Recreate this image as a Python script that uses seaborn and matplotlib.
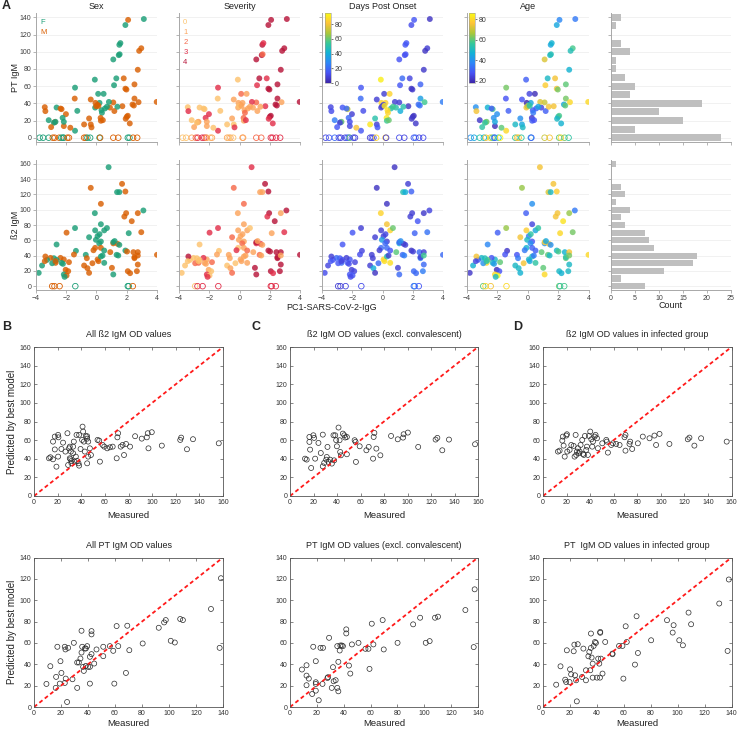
import numpy as np
import pandas as pd
import matplotlib
matplotlib.use("Agg")
import matplotlib.pyplot as plt
import seaborn as sns
from matplotlib.colors import LinearSegmentedColormap, Normalize
from matplotlib.cm import ScalarMappable

sns.set_theme(style="white")
plt.rcParams["font.family"] = ["Liberation Sans", "DejaVu Sans"]

# ---------------- Panel A data: PT IgM row ----------------
pt_pc1 = [3.13, 2.09, 1.91, 1.51, 1.58, 1.47, 1.53, 1.11, 2.96, 2.82, 2.73, 1.31, 1.80, 1.16, 1.91, 1.98, 2.51, -0.11,
          2.51, 2.78, 2.38, 2.47, 2.00, 2.07, 1.93, 2.20, 3.98, 1.71, 1.11, 1.18, 1.38, 0.89, 0.82, 0.56, 0.69, 0.33,
          0.36, 0.11, 0.47, 0.20, -0.09, -0.07, 0.07, -0.02, 0.13, 0.27, 0.29, 0.42, -0.38, -0.49, -0.38, -0.33, -0.82,
          -1.44, -1.42, -1.27, -1.42, -1.73, -2.02, -2.31, -2.16, -2.24, -2.16, -2.76, -2.71, -2.82, -2.64, -3.16,
          -3.00, -3.42, -3.38, -2.38,
          -3.76, -3.53, -3.16, -2.89, -2.76, -2.47, -2.33, -2.22, -2.16, -1.93, -1.82, -0.82, -0.71, -0.60, -0.42,
          0.20, 0.24, 1.11, 1.44, 2.07, 2.18, 2.42, 2.69]
pt_igm = [138, 137, 131, 108, 110, 96, 97, 91, 104, 101, 79, 69, 69, 61, 57, 56, 62, 67.5,
          45.5, 41.3, 38.6, 37.4, 24.3, 25.5, 22, 16.6, 41.6, 36.6, 41, 31, 36, 35, 41.6, 34, 36, 32,
          29, 51, 51, 40.5, 35, 40.5, 38.2, 36.6, 37, 23, 19.7, 20.4, 44.4, 22.4, 15.4, 12, 15.4,
          45.5, 58.2, 31.2, 8.1, 11.6, 27.4, 33.2, 13.5, 23.1, 18.5, 18.1, 18.5, 17.4, 35.1, 20.4,
          12.3, 35.5, 30.9, 33.9,
          0, 0, 0, 0, 0, 0, 0, 0, 0, 0, 0, 0, 0, 0, 0, 0, 0, 0, 0, 0, 0, 0, 0]
pt_sex = list("FMFFFFFFMMMFMFMMMFMMMMMMMMMMMMFMFFFFFFFFFMMMMMMMMMMMMMFFFMMMMFFMFFFFMMMM"
              "FFFMMMFFFMMMMFFFMMMFFMM")
pt_sev = [4, 4, 4, 4, 3, 4, 2, 4, 4, 4, 4, 4, 3, 3, 4, 4, 4, 0, 4, 1, 4, 4, 4, 4, 3, 3, 4, 3, 2, 1, 1, 1, 3, 1, 1, 1,
          2, 2, 1, 1, 1, 1, 1, 0, 1, 2, 1, 3, 1, 1, 0, 3, 0, 0, 3, 0, 3, 0, 3, 0, 1, 3, 1, 1, 1, 0, 0, 0, 1, 0, 3, 0,
          0, 0, 1, 2, 3, 3, 3, 2, 1, 0, 1, 1, 0, 1, 0, 1, 1, 2, 2, 3, 3, 3, 3]
pt_days = [5, 15, 12, 15, 15, 12, 14, 14, 8, 5, 6, 20, 10, 15, 5, 6, 18, 92, 35, 55, 20, 22, 6, 5, 6, 6, 25, 5, 8,
           40, 50, 50, 8, 48, 55, 88, 85, 8, 85, 85, 8, 85, 10, 8, 90, 90, 55, 60, 8, 50, 8, 15, 90, 20, 15, 12, 15,
           80, 8, 70, 10, 20, 12, 15, 60, 8, 15, 25, 15, 10, 12, 20,
           10, 15, 20, 12, 8, 10, 15, 18, 60, 12, 8, 8, 10, 12, 85, 80, 8, 12, 10, 15, 20, 10, 12]
pt_age = [35, 38, 45, 45, 48, 50, 52, 72, 58, 52, 48, 50, 75, 78, 75, 62, 60, 30, 62, 80, 45, 60, 50, 58, 50, 48, 80,
          75, 70, 30, 75, 25, 72, 30, 45, 30, 35, 25, 20, 45, 75, 18, 50, 70, 55, 22, 30, 28, 28, 40, 45, 50, 50, 28,
          62, 30, 80, 60, 40, 58, 20, 40, 45, 80, 60, 55, 48, 22, 55, 40, 75, 30,
          40, 45, 55, 48, 75, 80, 60, 40, 30, 50, 85, 55, 75, 75, 55, 45, 30, 70, 75, 60, 80, 62, 55]

# ---------------- Panel A data: beta2 IgM row ----------------
b2_pc1 = [0.80, -0.38, 1.69, 1.91, 1.36, 1.51, 0.29, 3.10, 1.96, 1.84, 2.33, 2.73, -0.11, -1.98, -1.42, -0.09, 0.29,
          0.51, 0.69, 0.07, -0.04, 0.29, 0.18, -0.49, -0.71, -1.36, -1.49, -2.64, -1.82, -2.16, -2.04, -1.87, -2.16,
          -1.98, -2.11, -2.38, -2.31, -2.22, -2.71, -2.64, -2.82, -3.04, -3.27, -3.38, -3.60, -3.82, -3.42, -2.93,
          -2.71, -0.64, -0.82, -0.60, -0.49, -0.27, -0.09, -0.20, 0.07, 0.13, 0.29, 0.29, 0.40, 0.51, 0.51, 0.91,
          1.11, 1.11, 1.11, 1.02, 1.40, 1.33, 1.44, 1.51, 1.91, 2.02, 2.07, 2.22, 2.13, 2.44, 2.51, 2.51, 2.73, 2.73,
          2.73, 2.67, 2.96, 4.00, 1.20, 0.20,
          -2.93, -2.78, -2.44, -1.40, 2.07, 2.13, 2.40]
b2_igm = [155.6, 128.6, 133.8, 123.8, 123, 123, 107.7, 99, 95.5, 91, 85, 95.5, 95.5, 70, 76, 73, 81,
          73, 76, 65.4, 60.6, 58.4, 56, 64, 41, 46.2, 41.4, 54.5, 31.4, 34.9, 21.4, 19.6, 15.3,
          14, 12.2, 37, 30.5, 29.2, 30.5, 34.4, 36.6, 37, 34.4, 38.8, 27, 17.4, 32.7, 30,
          32.7, 36.6, 27, 23.5, 17.4, 30, 50.1, 47, 34.9, 32.7, 50.1, 38.8, 40, 46.6, 30.5, 44.5,
          56, 57.5, 15.3, 24, 55.3, 41, 40.1, 54, 46.6, 45.3, 19.6, 17, 69.3, 44.5, 36.6, 38, 44.5, 40.1,
          28.3, 19.6, 70.6, 41, 59, 68,
          0, 0, 0, 0, 0, 0, 0]
b2_sex = list("FMMMFFMFMM" "MMFMFFFFFF" "FFFFFFMFMM" "MMFMFMFFMF" "FMFMFFMFMM"
              "MMMMMMMMMF" "FFFMMFFMMF" "FFFMMMFMMM" "MMMMMMFF" "MMMFFFM")
b2_sev = [3, 2, 4, 4, 1, 1, 2, 4, 4, 3, 4, 1, 1, 3, 3, 1, 1, 1, 0, 1, 1, 1, 2, 2, 1, 0, 1, 0, 2, 1, 1, 0, 3, 0, 3,
          3, 1, 1, 2, 0, 0, 0, 0, 4, 0, 0, 0, 2, 0, 1, 0, 1, 2, 0, 0, 3, 1, 1, 1, 1, 1, 2, 1, 1, 3, 4, 4, 4, 3, 2,
          1, 1, 4, 4, 4, 3, 1, 4, 4, 4, 4, 1, 4, 4, 3, 4, 1, 1,
          0, 3, 3, 3, 3, 3, 3]
b2_days = [5, 5, 8, 18, 48, 40, 5, 10, 8, 8, 15, 6, 85, 15, 8, 8, 80, 85, 60, 8, 35, 8, 20, 8, 8, 10, 12, 15, 10,
           15, 8, 10, 15, 15, 12, 8, 15, 12, 20, 12, 15, 20, 15, 8, 10, 12, 15, 15, 10, 8, 8, 40, 5, 20, 20, 8, 85,
           88, 20, 50, 8, 15, 88, 58, 40, 18, 20, 8, 5, 20, 25, 8, 5, 8, 20, 20, 18, 20, 25, 8, 8, 55, 20, 25, 22,
           20, 30, 10,
           8, 8, 10, 12, 20, 25, 15]
b2_age = [75, 65, 75, 78, 72, 50, 40, 35, 75, 75, 82, 65, 30, 30, 65, 78, 25, 45, 55, 35, 50, 28, 40, 75, 28, 22,
          28, 38, 60, 50, 20, 28, 80, 85, 50, 28, 50, 42, 80, 60, 52, 50, 30, 75, 48, 22, 25, 40, 55, 35, 50, 50,
          48, 75, 48, 35, 50, 45, 30, 50, 35, 30, 55, 60, 40, 78, 80, 60, 75, 60, 50, 40, 50, 58, 50, 48, 80, 48,
          60, 55, 75, 62, 50, 50, 62, 80, 45, 55,
          60, 80, 75, 80, 62, 55, 58]

# histogram counts are computed from the IgM values above (bins of width 10)
pt_bins = np.arange(-5, 150, 10)
b2_bins = np.arange(-5, 170, 10)

# ---------------- Panels B-D data ----------------
b2_all_meas = [12.7, 13.9, 16.1, 17.6, 16.1, 17.6, 20.4, 20.7, 20.4, 19, 23.2, 24.6, 26.6, 28.3, 29.7, 30.3, 31.2,
               30.3, 30.9, 31.7, 31.7, 28.9, 33.7, 33.1, 33.1, 34.3, 35.4, 36, 38.2, 36.5, 37.7, 38.2, 39.4, 40.7,
               41.1, 41.6, 42.2, 43, 43.9, 45, 45, 45.9, 47.3, 48.2, 45.9, 45, 53.8, 55.2, 55.8, 58.1, 59.5, 62,
               64.3, 66.6, 70, 70.6, 71.2, 73.4, 75, 76.2, 77.9, 81.3, 85.6, 91.2, 95.5, 96.3, 96.9, 99.7, 108.2,
               123.8, 124.6, 129.5, 134.6, 156.4]
b2_all_pred = [40.5, 41.6, 39.4, 50, 58.4, 63.8, 65.6, 63, 42.3, 31.5, 50.5, 57.3, 47.7, 67.4, 51.2, 53, 47.7,
               40.5, 39.4, 37.6, 35.1, 33.3, 58.4, 53, 45.9, 36.9, 42.3, 65.6, 65.6, 37.6, 35.1, 32.6, 50.5, 60.2,
               74.5, 69.2, 58.4, 47.7, 64.2, 64.2, 61.6, 58.4, 51.2, 44, 42.3, 35.1, 60.2, 59.5, 36.9, 54.8, 53,
               51.2, 52.3, 53, 40.5, 63, 67.4, 53, 54.8, 44, 55.9, 53, 64.2, 61.6, 63, 67.4, 51.2, 68.5, 54.1, 60.2,
               62.7, 50.2, 61, 56.6]
b2_excl_meas = [12.8, 14.2, 16.5, 16.5, 17.1, 18, 19.9, 20.5, 21.4, 24.2, 26.2, 27.9, 27.9, 29.1, 30.8, 31.3,
                31.9, 32.8, 34.2, 35.6, 37, 38.5, 37.6, 39.3, 39.9, 41.3, 42.2, 42.7, 43.3, 45, 46.2, 47, 48.4,
                48.4, 55, 55.8, 56.1, 59.3, 65, 67, 70.7, 71.2, 71.8, 73.5, 76.9, 86, 91.7, 96.2, 96.7, 100.3,
                109.1, 123.9, 125.4, 129.6, 135.3, 157.5]
b2_excl_pred = [40.1, 39.1, 58.1, 63.4, 49.8, 30.1, 65.2, 62.4, 40.1, 57, 46.2, 65.9, 31.9, 35.5, 39, 41.9, 52.7,
                36.6, 39, 34.8, 65.2, 65.2, 38.3, 59.9, 53.4, 73.5, 59.9, 47.3, 43.7, 67, 65.2, 62.8, 63.4, 44.8,
                59.9, 58.1, 36.6, 53.4, 49.1, 52.7, 40.1, 63.4, 67.7, 50.9, 43.7, 64.5, 60.9, 62.7, 66.3, 68.1,
                52.7, 60.6, 62.4, 49.1, 60.6, 55.6]
b2_inf_meas = [12.7, 14.1, 16.4, 16.9, 17.5, 18.4, 19.8, 20.3, 20.6, 22.6, 24, 26, 26.8, 27.7, 28.2, 28.8, 29.7,
               30.5, 31.1, 31.9, 33.3, 33.9, 34.7, 35.6, 36.7, 37.3, 38.1, 39, 40.1, 41, 41.8, 42.4, 43.8, 44.6,
               45.8, 46.6, 50.3, 53.7, 54.2, 55.1, 57.9, 59.3, 62.1, 65, 69.2, 70, 70, 73.4, 74, 75.7, 80.5, 84.7,
               90.4, 94.6, 96, 98.9, 107.3, 122.9, 124.3, 128.5, 134.2, 155.9]
b2_inf_pred = [47.7, 48.7, 59.5, 63.8, 54.1, 42.3, 64.9, 66.3, 47.7, 49.5, 54.8, 53.8, 42.3, 65.6, 44.1, 47.7,
               51.3, 45.9, 47.7, 54.8, 60.2, 45.2, 44.1, 64.5, 49.5, 53, 44.1, 64.5, 69.2, 60.9, 53, 58.4, 63.8,
               65.6, 62, 51.3, 56.6, 60.2, 58.4, 46.6, 54.8, 56.6, 55.9, 54.8, 63.1, 65.6, 48.7, 55.9, 58.4, 50.5,
               56.6, 63.8, 62, 64.9, 54.8, 66.7, 55.9, 60.9, 62.7, 54.1, 62, 58.4]
pt_all_meas = [9.2, 12.1, 16.1, 16.4, 17.3, 19.1, 19.6, 20.3, 22.8, 23.3, 23.5, 22.8, 24.5, 25.3, 28.5, 29.5, 32,
               32, 33.2, 34.4, 35.2, 35.2, 35.7, 36.4, 36.9, 37.7, 38.4, 38.4, 39.4, 40.1, 41.4, 41.4, 41.4, 42.6,
               42.6, 42.6, 44.6, 46.3, 51.3, 51.3, 56.2, 58.7, 59.5, 61.2, 62.4, 68.1, 69.1, 70.6, 80.5, 92.4,
               96.4, 97.6, 101.3, 104.3, 108.3, 110.3, 131.1, 137.5, 138.5]
pt_all_pred = [21.6, 38.2, 17.9, 28.2, 56.4, 21.9, 42.9, 31.9, 56.4, 53.9, 26.6, 22.5, 4.7, 55.4, 26, 60.1, 41.7,
               17.9, 41.7, 45.4, 71.4, 51, 56.4, 37.6, 33.8, 54.8, 54.8, 38.5, 57, 37.6, 37.6, 21.9, 47, 71.1, 68,
               49.5, 40.7, 53.9, 56.4, 47.6, 57, 52.6, 21.9, 75.8, 57, 31.9, 76.1, 53.2, 59.5, 74.2, 79.2, 81.4,
               62, 60.4, 82.4, 81.4, 91.8, 55.4, 120.6]
pt_excl_meas = [8.9, 12.3, 12.3, 12.3, 14, 16.5, 17.3, 19.2, 19.2, 19.2, 19.2, 21.4, 22.7, 24.6, 24.2, 27.9, 28.3,
                29.1, 31.1, 32, 32.5, 34, 35.2, 35.2, 36, 36, 37, 37.5, 38.5, 39.4, 41.9, 41.9, 43.9, 44.9, 46.1,
                51, 56.2, 58.4, 59.2, 60.9, 62.1, 69, 69.8, 80.1, 91.7, 96.9, 101.1, 104, 108, 110.2, 130.6,
                136.8, 137.5]
pt_excl_pred = [35.1, 39.1, 29.4, 20.4, 26.6, 12.2, 56.4, 42.9, 23.2, 21.6, 15.3, 6.3, 55.4, 55.4, 21.6, 27.2,
                27.9, 64.8, 17.9, 37.3, 24.1, 25.1, 57, 17.9, 42.3, 14.7, 52.9, 57.6, 57.6, 57, 72.7, 68.9, 38.8,
                31.3, 58.6, 60.1, 54.5, 54.5, 35.7, 78, 58.6, 81.4, 53.9, 60.1, 77.4, 83.6, 60.1, 61.7, 83.6, 84.6,
                90.8, 56.1, 110.2]
pt_inf_meas = [9.8, 13, 16.5, 17.2, 17.7, 19.7, 20.1, 20.9, 22.8, 23.3, 23.8, 24.6, 25.1, 25.8, 29, 30, 31.9,
               31.9, 33.7, 34.4, 35.1, 35.6, 35.6, 36.1, 36.9, 36.9, 37.6, 38.6, 39.3, 40.1, 41, 41.8, 42.3, 42.5,
               42.5, 43, 44.2, 46.2, 51.6, 51.6, 56.5, 59, 59.7, 61.4, 62.2, 68.3, 69.5, 70.5, 80.3, 92.1, 96.3,
               97, 101.2, 103.9, 108.1, 110, 130.9, 137.1, 138]
pt_inf_pred = [20.9, 38.1, 25.6, 23.4, 53.1, 23.4, 35.3, 30.6, 52.2, 58.4, 29.7, 25, 5.3, 58.8, 28.1, 54.7, 34.4,
               25, 47.5, 51.6, 34.4, 68.8, 55.3, 46.3, 40.6, 27.5, 57.2, 60.9, 60, 27.5, 45.3, 40.6, 27.5, 70.3,
               69.5, 45.3, 31.3, 60.9, 50, 49.4, 57.2, 57.2, 26.6, 75.6, 60.9, 39.7, 85, 50.6, 62.5, 81.3, 69.7,
               76.6, 62.5, 57.8, 88.4, 77.5, 96.9, 52.5, 119.4]

# ---------------- styles ----------------
sex_pal = {"F": "#1b9e77", "M": "#d95f02"}
sev_pal = {0: "#fdc36e", 1: "#fca45c", 2: "#f6694b", 3: "#e2304b", 4: "#b8163b"}
parula = LinearSegmentedColormap.from_list("parula", [
    (0.2422, 0.1504, 0.6603), (0.2810, 0.3228, 0.9579), (0.1786, 0.5289, 0.9682),
    (0.0689, 0.6948, 0.8394), (0.2161, 0.7843, 0.5923), (0.6720, 0.7793, 0.2227),
    (0.9970, 0.7659, 0.2199), (0.9769, 0.9839, 0.0805)])
days_norm = (0, 95)
age_norm = (18, 86)

W, H = 739, 730
fig = plt.figure(figsize=(W / 100, H / 100), dpi=100)


def add_ax(l, t, r, b):
    return fig.add_axes([l / W, 1 - b / H, (r - l) / W, (b - t) / H])


def style_a(ax, ylim, yticks, ylab, xlab):
    for s in ["top", "right"]:
        ax.spines[s].set_visible(False)
    for s in ["left", "bottom"]:
        ax.spines[s].set_color("#a8a8a8")
        ax.spines[s].set_linewidth(0.7)
    ax.tick_params(direction="out", length=2, width=0.6, color="#a8a8a8", labelsize=5,
                   labelcolor="#404040", pad=1.5, left=True, bottom=True)
    ax.set_ylim(ylim)
    ax.set_yticks(yticks)
    ax.yaxis.grid(True, color="#efefef", lw=0.6)
    ax.xaxis.grid(False)
    ax.set_axisbelow(True)
    if not ylab:
        ax.set_yticklabels([])
    if not xlab:
        ax.set_xticklabels([])
    ax.set_xlabel("")
    ax.set_ylabel("")


def hollow_last(ax):
    coll = ax.collections[-1]
    fc = coll.get_facecolors()
    coll.set_edgecolors(fc)
    coll.set_facecolors("none")
    coll.set_linewidths(0.6)


cols = [(36, 157), (179, 300), (322, 443), (467, 588.5), (611, 731)]
rows = [(13, 142), (160, 290)]
datasets = [
    (pd.DataFrame({"pc1": pt_pc1, "igm": pt_igm, "sex": pt_sex, "sev": pt_sev, "days": pt_days, "age": pt_age}),
     (-5, 145), np.arange(0, 141, 20), pt_bins, "PT IgM"),
    (pd.DataFrame({"pc1": b2_pc1, "igm": b2_igm, "sex": b2_sex, "sev": b2_sev, "days": b2_days, "age": b2_age}),
     (-5, 165), np.arange(0, 161, 20), b2_bins, "ß2 IgM"),
]
titles = ["Sex", "Severity", "Days Post Onset", "Age"]
hue_specs = [
    dict(hue="sex", palette=sex_pal),
    dict(hue="sev", palette=sev_pal),
    dict(hue="days", palette=parula, hue_norm=days_norm),
    dict(hue="age", palette=parula, hue_norm=age_norm),
]

for r, (df, ylim, yticks, bins, ylab) in enumerate(datasets):
    t, b = rows[r]
    filled = df[df["igm"] > 0]
    empty = df[df["igm"] == 0]
    for c in range(4):
        l, rr = cols[c]
        ax = add_ax(l, t, rr, b)
        sns.scatterplot(data=filled, x="pc1", y="igm", s=18, alpha=0.82, linewidth=0, legend=False, ax=ax,
                        **hue_specs[c])
        sns.scatterplot(data=empty, x="pc1", y="igm", s=16, linewidth=0.6, legend=False, ax=ax,
                        **hue_specs[c])
        hollow_last(ax)
        ax.set_xlim(-4, 4)
        ax.set_xticks([-4, -2, 0, 2, 4])
        style_a(ax, ylim, yticks, c == 0, r == 1)
        if r == 0:
            ax.set_title(titles[c], fontsize=6.5, pad=3, color="#222222")
            if c == 0:
                for k, lab in enumerate(["F", "M"]):
                    ax.text(0.035, 0.925 - k * 0.08, lab, color=sex_pal[lab], fontsize=5.5,
                            transform=ax.transAxes, va="center")
            if c == 1:
                for k in range(5):
                    ax.text(0.035, 0.925 - k * 0.078, str(k), color=sev_pal[k], fontsize=5.5,
                            transform=ax.transAxes, va="center")
    # histogram column
    l, rr = cols[4]
    ax = add_ax(l, t, rr, b)
    sns.histplot(y=df["igm"], bins=bins, ax=ax, color="#bfbfbf", alpha=1, edgecolor="none",
                 linewidth=0, shrink=0.8)
    ax.set_xlim(0, 25)
    ax.set_xticks([0, 5, 10, 15, 20, 25])
    style_a(ax, ylim, yticks, False, r == 1)
    fig.text(15 / W, 1 - ((t + b) / 2) / H, ylab, rotation=90, ha="center", va="center", fontsize=6.5,
             color="#222222")

# colorbars for days and age
for (l, rr), norm, ticks in [((325, 330.5), days_norm, [0, 20, 40, 60, 80]),
                             ((469, 474.5), age_norm, [20, 40, 60, 80])]:
    cax = add_ax(l, 13, rr, 83)
    cb = fig.colorbar(ScalarMappable(Normalize(*norm), parula), cax=cax)
    cb.set_ticks(ticks)
    cax.tick_params(labelsize=5, length=1.5, width=0.5, pad=1.5, colors="#404040")
    cb.outline.set_linewidth(0.4)
    cb.outline.set_edgecolor("#999999")

fig.text(332 / W, 1 - 307 / H, "PC1-SARS-CoV-2-IgG", ha="center", va="center", fontsize=6.5, color="#222222")
fig.text(671 / W, 1 - 306 / H, "Count", ha="center", va="center", fontsize=6.5, color="#222222")

# ---------------- Panels B-D ----------------
bd = [
    [(b2_all_meas, b2_all_pred, "All ß2 IgM OD values"),
     (b2_excl_meas, b2_excl_pred, "ß2 IgM OD values (excl. convalescent)"),
     (b2_inf_meas, b2_inf_pred, "ß2 IgM OD values in infected group")],
    [(pt_all_meas, pt_all_pred, "All PT IgM OD values"),
     (pt_excl_meas, pt_excl_pred, "PT IgM OD values (excl. convalescent)"),
     (pt_inf_meas, pt_inf_pred, "PT  IgM OD values in infected group")],
]
bd_cols = [(34, 223), (290, 478), (543, 731.5)]
bd_rows = [(347, 496), (557.5, 707)]
bd_lims = [160, 140]
for r in range(2):
    t, b = bd_rows[r]
    lim = bd_lims[r]
    for c in range(3):
        l, rr = bd_cols[c]
        meas, pred, title = bd[r][c]
        ax = add_ax(l, t, rr, b)
        sns.lineplot(x=[0, lim], y=[0, lim], ax=ax, color="#ff1a1a", lw=1.3, linestyle=(0, (2.2, 1.6)))
        sns.scatterplot(x=meas, y=pred, ax=ax, s=13, color="k", legend=False)
        coll = ax.collections[-1]
        coll.set_facecolors("none")
        coll.set_edgecolors("#2a2a2a")
        coll.set_linewidths(0.5)
        ax.set_xlim(0, lim)
        ax.set_ylim(0, lim)
        ax.set_xticks(np.arange(0, lim + 1, 20))
        ax.set_yticks(np.arange(0, lim + 1, 20))
        for s in ax.spines.values():
            s.set_color("#555555")
            s.set_linewidth(0.6)
        ax.tick_params(direction="in", length=2, width=0.5, labelsize=5, labelcolor="#333333", pad=2,
                       left=True, bottom=True, top=True, right=True, color="#555555")
        ax.set_title(title, fontsize=6.5, pad=7, color="#222222")
        fig.text(((l + rr) / 2) / W, 1 - (515 if r == 0 else 724) / H, "Measured", ha="center", va="center",
                 fontsize=6.8, color="#222222")
        if c == 0:
            fig.text(12 / W, 1 - ((t + b) / 2) / H, "Predicted by best model", rotation=90, ha="center",
                     va="center", fontsize=7, color="#222222")

for lab, x, y in [("A", 2, 6), ("B", 2, 327), ("C", 252, 327), ("D", 513, 327)]:
    fig.text(x / W, 1 - y / H, lab, fontsize=9, fontweight="bold", ha="left", va="center")

fig.savefig("out.png", dpi=100)
